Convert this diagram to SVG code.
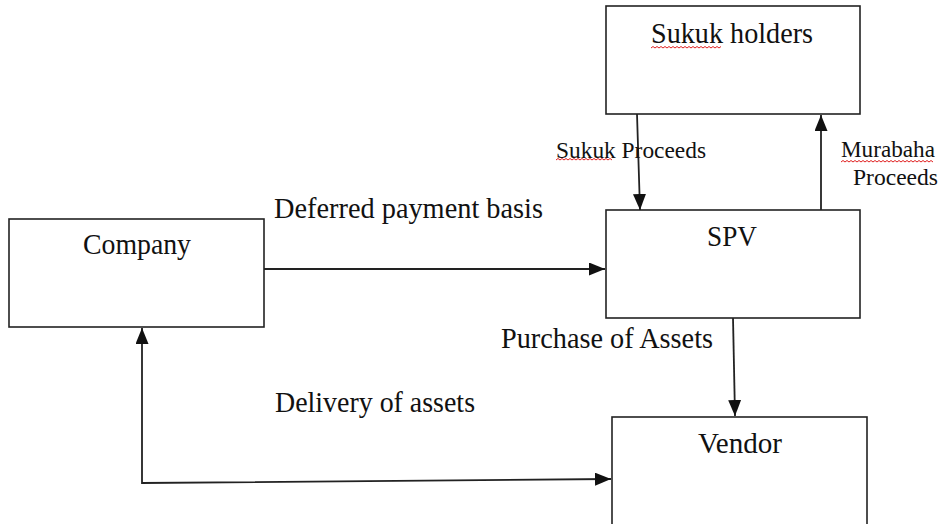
<svg xmlns="http://www.w3.org/2000/svg" width="944" height="524" viewBox="0 0 944 524">
<style>
.box{fill:#fff;stroke:#222;stroke-width:1.6}
text{font-family:'Liberation Serif','Times New Roman',serif;fill:#111}
.big{font-size:29px}
.sm{font-size:24px}
.ln{fill:none;stroke:#222;stroke-width:1.8}
.wave{fill:none;stroke:#e02020;stroke-width:1}
</style>
<defs>
<marker id="ah" viewBox="0 0 16 13" refX="16" refY="6.5" markerWidth="16" markerHeight="13" markerUnits="userSpaceOnUse" orient="auto-start-reverse">
<path d="M0,0 L16,6.5 L0,13 Z" fill="#111"/>
</marker>
</defs>
<rect width="944" height="524" fill="#fff"/>
<g id="sukuk-holders">
<rect class="box" x="606" y="6" width="254" height="108"/>
<text class="big" font-family="Liberation Serif, serif" x="651" y="43" textLength="162" lengthAdjust="spacingAndGlyphs">Sukuk holders</text>
<path class="wave" d="M651,48 l2,-1.5 l2,1.5 l2,-1.5 l2,1.5 l2,-1.5 l2,1.5 l2,-1.5 l2,1.5 l2,-1.5 l2,1.5 l2,-1.5 l2,1.5 l2,-1.5 l2,1.5 l2,-1.5 l2,1.5 l2,-1.5 l2,1.5 l2,-1.5 l2,1.5 l2,-1.5 l2,1.5 l2,-1.5 l2,1.5 l2,-1.5 l2,1.5 l2,-1.5 l2,1.5 l2,-1.5 l2,1.5 l2,-1.5 l2,1.5 l2,-1.5 l2,1.5 l2,-1.5"/>
</g>
<g id="company">
<rect class="box" x="9" y="219" width="255" height="108"/>
<text class="big" font-family="Liberation Serif, serif" x="83" y="254" textLength="108" lengthAdjust="spacingAndGlyphs">Company</text>
</g>
<g id="spv">
<rect class="box" x="606" y="210" width="254" height="108"/>
<text class="big" font-family="Liberation Serif, serif" x="707" y="246" textLength="50" lengthAdjust="spacingAndGlyphs">SPV</text>
</g>
<g id="vendor">
<rect class="box" x="612" y="417" width="255" height="120"/>
<text class="big" font-family="Liberation Serif, serif" x="698" y="453" textLength="84" lengthAdjust="spacingAndGlyphs">Vendor</text>
</g>
<g id="connectors">
<line class="ln" x1="264" y1="269" x2="605" y2="269" marker-end="url(#ah)"/>
<line class="ln" x1="637" y1="114" x2="640" y2="210" marker-end="url(#ah)"/>
<line class="ln" x1="821" y1="210" x2="821" y2="115" marker-end="url(#ah)"/>
<line class="ln" x1="733" y1="318" x2="735" y2="416" marker-end="url(#ah)"/>
<path class="ln" d="M142,328 L142,483 L611,479" marker-start="url(#ah)" marker-end="url(#ah)"/>
</g>
<g id="labels">
<text class="big" font-family="Liberation Serif, serif" x="274" y="218" textLength="269" lengthAdjust="spacingAndGlyphs">Deferred payment basis</text>
<text class="sm" font-family="Liberation Serif, serif" x="556" y="158" textLength="150" lengthAdjust="spacingAndGlyphs">Sukuk Proceeds</text>
<path class="wave" d="M556,160 l2,-1.5 l2,1.5 l2,-1.5 l2,1.5 l2,-1.5 l2,1.5 l2,-1.5 l2,1.5 l2,-1.5 l2,1.5 l2,-1.5 l2,1.5 l2,-1.5 l2,1.5 l2,-1.5 l2,1.5 l2,-1.5 l2,1.5 l2,-1.5 l2,1.5 l2,-1.5 l2,1.5 l2,-1.5 l2,1.5 l2,-1.5 l2,1.5 l2,-1.5 l2,1.5"/>
<text class="sm" font-family="Liberation Serif, serif" x="841" y="157" textLength="94" lengthAdjust="spacingAndGlyphs">Murabaha</text>
<path class="wave" d="M841,162 l2,-1.5 l2,1.5 l2,-1.5 l2,1.5 l2,-1.5 l2,1.5 l2,-1.5 l2,1.5 l2,-1.5 l2,1.5 l2,-1.5 l2,1.5 l2,-1.5 l2,1.5 l2,-1.5 l2,1.5 l2,-1.5 l2,1.5 l2,-1.5 l2,1.5 l2,-1.5 l2,1.5 l2,-1.5 l2,1.5 l2,-1.5 l2,1.5 l2,-1.5 l2,1.5 l2,-1.5 l2,1.5 l2,-1.5 l2,1.5 l2,-1.5 l2,1.5 l2,-1.5 l2,1.5 l2,-1.5 l2,1.5 l2,-1.5 l2,1.5 l2,-1.5 l2,1.5 l2,-1.5 l2,1.5 l2,-1.5 l2,1.5"/>
<text class="sm" font-family="Liberation Serif, serif" x="853" y="185" textLength="85" lengthAdjust="spacingAndGlyphs">Proceeds</text>
<text class="big" font-family="Liberation Serif, serif" x="501" y="348" textLength="212" lengthAdjust="spacingAndGlyphs">Purchase of Assets</text>
<text class="big" font-family="Liberation Serif, serif" x="275" y="412" textLength="200" lengthAdjust="spacingAndGlyphs">Delivery of assets</text>
</g>
</svg>
